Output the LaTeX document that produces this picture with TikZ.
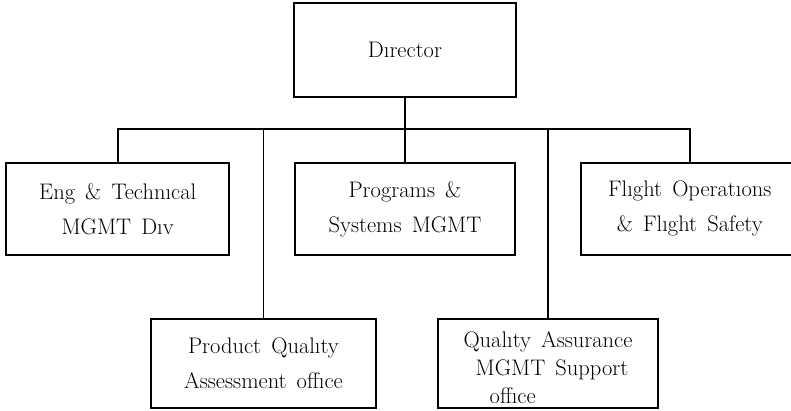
\documentclass[tikz,border=0pt]{standalone}
\usepackage{tikz}
\usetikzlibrary{shapes,arrows, positioning}
\newcommand{\orgfont}[1]{\fontsize{22.5}{#1}\selectfont\spaceskip=0.45em plus 0.1em\relax}
\tikzstyle{block} = [rectangle, draw, line width=1.8pt, align=center,
    minimum width=220pt, minimum height=92pt, inner sep=0pt, font=\orgfont{35}]
\tikzstyle{line} = [draw, line width=1.8pt]

\begin{document}
\begin{tikzpicture}[x=1pt, y=1pt, node distance = 64pt]
    \useasboundingbox (0,0) rectangle (791,-410);
    \clip (0,0) rectangle (791,-410);

    % Place nodes
	\node [block, minimum width=222pt, minimum height=94pt] (Director) at (405,-50) {Dırector};
	\node [block, below=of Director] (Programs) {Programs \&\\Systems MGMT};
	\node [block, left=of Programs, minimum width=223pt] (EngTech) {Eng \& Technıcal\\MGMT Dıv};
	\node [block, right=of Programs, minimum width=218pt] (FlightOps) {Flıght Operatıons\\\& Flıght Safety};
	\node [block, minimum width=225pt, minimum height=89pt] (ProductQuality) at (263.5,-363.5) {Product Qualıty\\Assessment offıce};
	\node [block, minimum height=89pt, font=\orgfont{28}] (QualityAssurance) at (548,-363.5)
	    {\rule{0pt}{29pt}Qualıty Assurance\\\hskip8pt MGMT Support\\\rlap{\hskip18pt offıce}\phantom{MGMT Support}};

    % Draw connectors
	\coordinate (Bus) at (405,-129);
	\path [line] (Director) -- (Programs);
	\path [line] (EngTech.north) |- (Bus) -| (FlightOps.north);
	\path [line] (ProductQuality.north) |- (Bus);
	\path [line] (QualityAssurance.north) |- (Bus);

\end{tikzpicture}
\end{document}
